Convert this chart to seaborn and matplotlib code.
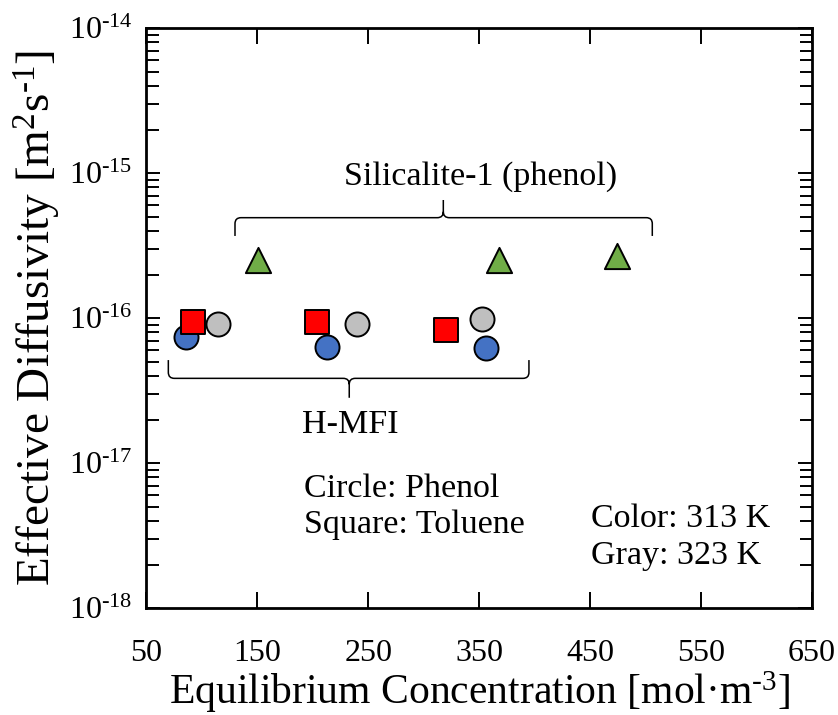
import numpy as np
import pandas as pd
import matplotlib
matplotlib.use("Agg")
import matplotlib.pyplot as plt
from matplotlib.path import Path
from matplotlib.patches import PathPatch
from matplotlib.ticker import FixedLocator, LogLocator, NullFormatter, FuncFormatter, NullLocator
import seaborn as sns

# ---------------- data ----------------
hmfi_phenol_313_x = [85.3, 213.0, 355.8]
hmfi_phenol_313_y = [7.4e-17, 6.37e-17, 6.21e-17]
hmfi_phenol_323_x = [114.2, 239.5, 352.2]
hmfi_phenol_323_y = [9.09e-17, 9.09e-17, 9.89e-17]
hmfi_toluene_313_x = [91.7, 204.0, 319.7]
hmfi_toluene_313_y = [9.38e-17, 9.38e-17, 8.3e-17]
sil_phenol_313_x = [150.3, 368.1, 473.9]
sil_phenol_313_y = [2.53e-16, 2.53e-16, 2.71e-16]

x_ticks = [50, 150, 250, 350, 450, 550, 650]
y_ticks = [1e-18, 1e-17, 1e-16, 1e-15, 1e-14]

x_label = r"Equilibrium Concentration [mol·m$^{\text{-3}}$]"
y_label = r"Effective Diffusivity [m$^{\text{2}}$s$^{\text{-1}}$]"

# ---------------- style ----------------
sns.set_style("white")
plt.rcParams["font.family"] = ["Liberation Serif", "DejaVu Serif"]
plt.rcParams["mathtext.fontset"] = "custom"
plt.rcParams["mathtext.rm"] = "Liberation Serif"
plt.rcParams["mathtext.it"] = "Liberation Serif:italic"
plt.rcParams["mathtext.bf"] = "Liberation Serif:bold"
for key in ["text.color", "axes.labelcolor", "xtick.color", "ytick.color"]:
    plt.rcParams[key] = "black"

TICK_FS = 23
XLABEL_FS = 30
YLABEL_FS = 34
NOTE_FS = 24.5

fig = plt.figure(figsize=(8.38, 7.15), dpi=100)
ax = fig.add_axes([0.1748, 0.1492, 0.7942, 0.8112])

series = [
    (hmfi_phenol_313_x, hmfi_phenol_313_y, "o", "#4472C4", 300),
    (hmfi_phenol_323_x, hmfi_phenol_323_y, "o", "#BFBFBF", 300),
    (hmfi_toluene_313_x, hmfi_toluene_313_y, "s", "#FF0000", 300),
    (sil_phenol_313_x, sil_phenol_313_y, "^", "#70AD47", 330),
]
for i, (xs, ys, mk, col, size) in enumerate(series):
    df = pd.DataFrame({"x": xs, "y": ys})
    sns.scatterplot(data=df, x="x", y="y", marker=mk, color=col, s=size,
                    edgecolor="black", linewidth=1.4, ax=ax, zorder=3 + i,
                    legend=False)

ax.set_yscale("log")
ax.set_xlim(50, 650)
ax.set_ylim(1e-18, 1e-14)

ax.xaxis.set_major_locator(FixedLocator(x_ticks))
ax.xaxis.set_minor_locator(NullLocator())
ax.yaxis.set_major_locator(FixedLocator(y_ticks))
ax.yaxis.set_minor_locator(LogLocator(base=10, subs=np.arange(2, 10)))
ax.yaxis.set_minor_formatter(NullFormatter())
ax.yaxis.set_major_formatter(FuncFormatter(
    lambda v, p: r"10$^{\text{%d}}$" % int(round(np.log10(v)))))
ax.xaxis.set_major_formatter(FuncFormatter(lambda v, p: "%d" % v))

for s in ax.spines.values():
    s.set_visible(True)
    s.set_color("black")
    s.set_linewidth(2.0)

ax.tick_params(axis="x", which="major", direction="in", length=11.5, width=1.4,
               top=True, bottom=True, labelsize=TICK_FS, pad=22, colors="black")
ax.tick_params(axis="y", which="major", direction="in", length=10, width=1.4,
               left=True, right=True, labelsize=TICK_FS, pad=10, colors="black")
ax.tick_params(axis="y", which="minor", direction="in", length=9, width=1.4,
               left=True, right=True)

ax.set_xlabel(x_label, fontsize=XLABEL_FS, labelpad=1)
ax.set_ylabel(y_label, fontsize=YLABEL_FS, labelpad=4)

# ---------------- annotations ----------------
def brace(ax, x0, x1, xm, y_end, y_line, y_tip, r_px=6, lw=1.1):
    to_axes = ax.transData + ax.transAxes.inverted()
    (ax0, aend), (ax1, _), (axm, aline), (_, atip) = to_axes.transform(
        [(x0, y_end), (x1, y_end), (xm, y_line), (xm, y_tip)])
    bb = ax.get_window_extent()
    rx = r_px / bb.width
    ry = r_px / bb.height
    d = 1 if atip > aline else -1
    verts = [
        (ax0, aend), (ax0, aline - d * ry),
        (ax0, aline), (ax0 + rx, aline),
        (axm - rx, aline),
        (axm, aline), (axm, aline + d * ry),
        (axm, atip),
        (axm, aline + d * ry),
        (axm, aline), (axm + rx, aline),
        (ax1 - rx, aline),
        (ax1, aline), (ax1, aline - d * ry),
        (ax1, aend),
    ]
    codes = [Path.MOVETO, Path.LINETO,
             Path.CURVE3, Path.CURVE3,
             Path.LINETO,
             Path.CURVE3, Path.CURVE3,
             Path.LINETO,
             Path.MOVETO,
             Path.CURVE3, Path.CURVE3,
             Path.LINETO,
             Path.CURVE3, Path.CURVE3,
             Path.LINETO]
    patch = PathPatch(Path(verts, codes), transform=ax.transAxes, fill=False,
                      edgecolor="black", lw=lw, clip_on=False, zorder=2)
    ax.add_patch(patch)

brace(ax, 129.8, 506.0, 317.6, 10**-15.432, 10**-15.306, 10**-15.184)
brace(ax, 69.7, 394.8, 232.8, 10**-16.288, 10**-16.414, 10**-16.548)

ax.text(351, 10**-15.081, "Silicalite-1 (phenol)", fontsize=NOTE_FS,
        ha="center", va="baseline")
ax.text(234.2, 10**-16.793, "H-MFI", fontsize=NOTE_FS, ha="center", va="baseline")
ax.text(192, 10**-17.230, "Circle: Phenol", fontsize=NOTE_FS, ha="left", va="baseline")
ax.text(192, 10**-17.479, "Square: Toluene", fontsize=NOTE_FS, ha="left", va="baseline")
ax.text(450.5, 10**-17.441, "Color: 313 K", fontsize=NOTE_FS, ha="left", va="baseline")
ax.text(450.5, 10**-17.694, "Gray: 323 K", fontsize=NOTE_FS, ha="left", va="baseline")

fig.savefig("out.png", dpi=100)
